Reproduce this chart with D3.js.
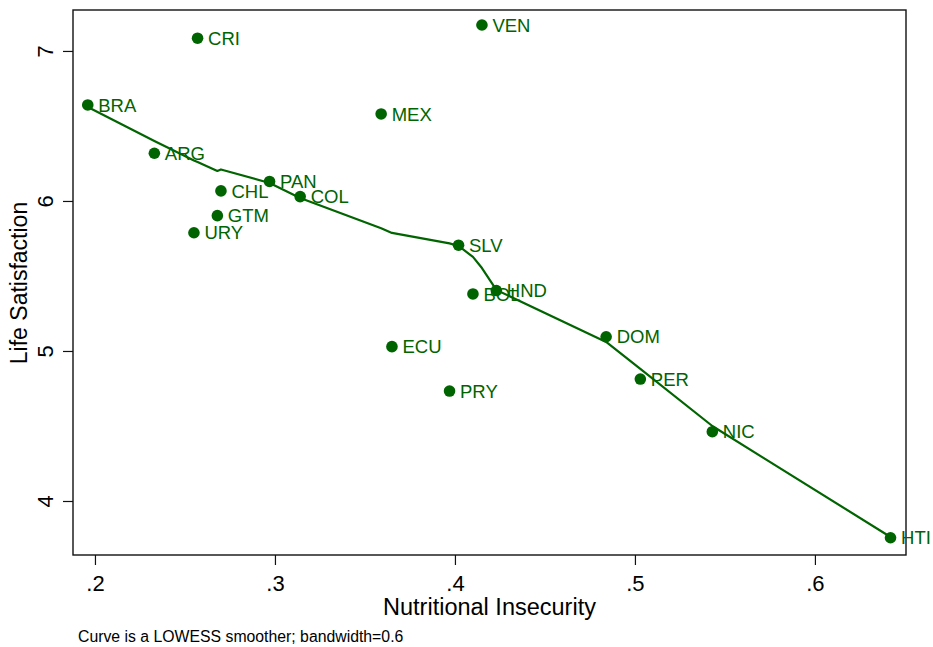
<!DOCTYPE html>
<html>
<head>
<meta charset="utf-8">
<script src="https://cdn.jsdelivr.net/npm/d3@7"></script>
<style>
  html, body { margin: 0; padding: 0; background: #fff; }
  svg { display: block; font-family: "Liberation Sans", Arial, Helvetica, sans-serif; }
</style>
</head>
<body>
<svg id="chart" width="933" height="647"></svg>
<script>
// ---- data ----
const countries = ["BRA","ARG","URY","CRI","GTM","CHL","PAN","COL","MEX","ECU","PRY","SLV","BOL","VEN","HND","DOM","PER","NIC","HTI"];
const insecurity = [0.196,0.233,0.255,0.257,0.268,0.270,0.297,0.314,0.359,0.365,0.397,0.402,0.410,0.415,0.423,0.484,0.503,0.543,0.642];
const satisfaction = [6.64,6.318,5.788,7.085,5.902,6.067,6.13,6.029,6.58,5.029,4.733,5.705,5.38,7.173,5.403,5.095,4.813,4.462,3.755];
// LOWESS smoothed values (bandwidth 0.6) at each x
const lowessFit = [6.627,6.40,6.27,6.26,6.20,6.21,6.12,6.02,5.818,5.787,5.717,5.70,5.627,5.553,5.407,5.06,4.88,4.50,3.76];
const xTicks = [0.2,0.3,0.4,0.5,0.6];
const yTicks = [4,5,6,7];
const xTitle = "Nutritional Insecurity";
const yTitle = "Life Satisfaction";
const note = "Curve is a LOWESS smoother; bandwidth=0.6";

// ---- layout ----
const green = "#006400";
const L = 73, R = 906, T = 10, B = 555;
const svg = d3.select("#chart");

const x = d3.scaleLinear().domain([0.1878, 0.6506]).range([L, R]);
const y = d3.scaleLinear().domain([3.64, 7.273]).range([B, T]);

const pts = countries.map((c, i) => ({ c, x: insecurity[i], y: satisfaction[i], f: lowessFit[i] }));

// frame
svg.append("rect")
  .attr("x", L).attr("y", T).attr("width", R - L).attr("height", B - T)
  .attr("fill", "none").attr("stroke", "#111").attr("stroke-width", 1.4);

// x axis
const fmt = v => d3.format(".1f")(v).replace(/^0/, "");
const gx = svg.append("g").attr("transform", `translate(0,${B})`)
  .call(d3.axisBottom(x).tickValues(xTicks).tickSize(10).tickFormat(fmt));
gx.select(".domain").remove();
gx.selectAll(".tick line").attr("stroke", "#111").attr("stroke-width", 1.2);
gx.selectAll(".tick text")
  .attr("y", 36).attr("dy", null)
  .attr("fill", "#000").attr("font-size", 22)
  .attr("font-family", "Liberation Sans, Arial, sans-serif");

// y axis
const gy = svg.append("g").attr("transform", `translate(${L},0)`)
  .call(d3.axisLeft(y).tickValues(yTicks).tickSize(10).tickFormat(d3.format("d")));
gy.select(".domain").remove();
gy.selectAll(".tick line").attr("stroke", "#111").attr("stroke-width", 1.2);
gy.selectAll(".tick text")
  .attr("x", null).attr("dy", null)
  .attr("text-anchor", "middle")
  .attr("transform", "translate(-20,0) rotate(-90)")
  .attr("fill", "#000").attr("font-size", 22)
  .attr("font-family", "Liberation Sans, Arial, sans-serif");

// axis titles
svg.append("text")
  .attr("x", (L + R) / 2).attr("y", 615)
  .attr("text-anchor", "middle").attr("font-size", 23.5).attr("fill", "#000")
  .text(xTitle);
svg.append("text")
  .attr("transform", `translate(27,${283}) rotate(-90)`)
  .attr("text-anchor", "middle").attr("font-size", 23).attr("fill", "#000")
  .text(yTitle);

// note
svg.append("text")
  .attr("x", 78).attr("y", 642)
  .attr("font-size", 15.8).attr("fill", "#000")
  .text(note);

// lowess curve
const line = d3.line().x(d => x(d.x)).y(d => y(d.f));
svg.append("path")
  .datum(pts.slice().sort((a, b) => a.x - b.x))
  .attr("d", line)
  .attr("fill", "none").attr("stroke", green).attr("stroke-width", 2.2)
  .attr("stroke-linejoin", "round");

// points
svg.append("g").selectAll("circle").data(pts).join("circle")
  .attr("cx", d => x(d.x)).attr("cy", d => y(d.y)).attr("r", 5.8)
  .attr("fill", green);

// labels
svg.append("g").selectAll("text").data(pts).join("text")
  .attr("x", d => x(d.x) + 10.5).attr("y", d => y(d.y))
  .attr("dy", "0.36em")
  .attr("font-size", 18.5).attr("fill", green)
  .text(d => d.c);
</script>
</body>
</html>
